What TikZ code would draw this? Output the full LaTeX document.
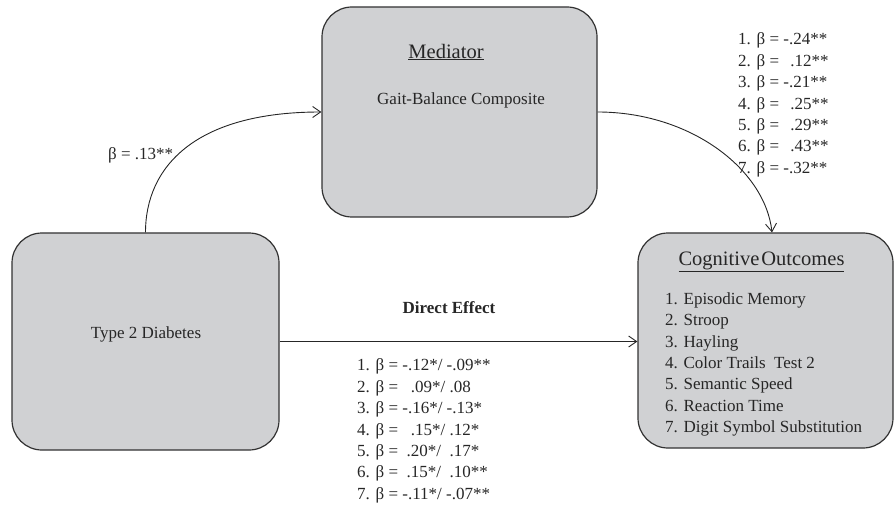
\documentclass[tikz,border=0pt]{standalone}
\usepackage{fontspec}
\setmainfont{Liberation Serif}
\usetikzlibrary{arrows.meta}
\definecolor{boxfill}{RGB}{208,209,211}
\definecolor{boxline}{RGB}{50,50,50}
\tikzset{
  box/.style={draw=boxline, fill=boxfill, line width=1.2pt, rounded corners=30pt, inner sep=0pt},
  txt/.style={inner sep=0pt, text=black!85, font=\fontsize{17}{21.4}\selectfont},
  ttl/.style={inner sep=0pt, text=black!85, font=\fontsize{20.5}{24}\selectfont},
  lst/.style={txt, align=left, anchor=west},
  arr/.style={draw=black!85, line width=0.9pt, -{Straight Barb[length=8pt,width=11pt]}}
}
\begin{document}
\begin{tikzpicture}[x=1pt,y=-1pt]
\useasboundingbox (0,0) rectangle (894,505);
% boxes
\node[box, minimum width=275pt, minimum height=210pt] (med) at (459.5,112) {};
\node[box, minimum width=267pt, minimum height=217pt] (t2) at (145.5,341.5) {};
\node[box, minimum width=255pt, minimum height=215pt] (cog) at (765.5,340.5) {};
% box texts
\node[ttl] (medtitle) at (446,52) {\underline{Mediator}};
\node[txt, anchor=west] (medtext) at (377,100) {Gait-Balance Composite};
\node[txt] (t2text) at (146,334) {Type 2 Diabetes};
\node[ttl] (cogtitle) at (761.5,262) {\underline{Cognitive\hspace{2pt}Outcomes}};
\node[lst] (coglist) at (665,364.5) {1. Episodic Memory\\2. Stroop\\3. Hayling\\4. Color Trails\ \ Test 2\\5. Semantic Speed\\6. Reaction Time\\7. Digit Symbol Substitution};
% connectors
\draw[arr] (t2.north) .. controls ([yshift=65pt]t2.north) and ([xshift=-127pt]med.west) .. (med.west);
\draw[arr] (med.east) .. controls ([xshift=93pt]med.east) and ([xshift=-0.5pt,yshift=63pt]cog.north) .. ([xshift=6.5pt]cog.north);
\draw[arr] (t2.east) -- (t2.east -| cog.west);
% labels
\node[txt, anchor=west] (alabel) at (108,155) {β = .13**};
\node[lst] (blabel) at (738,105) {1. β = -.24**\\2. β = \ \,.12**\\3. β = -.21**\\4. β = \ \,.25**\\5. β = \ \,.29**\\6. β = \ \,.43**\\7. β = -.32**};
\node[txt, font=\fontsize{17}{21.4}\selectfont\bfseries] (dlabel) at (449,308) {Direct Effect};
\node[lst] (clabel) at (357,431) {1. β = -.12*/ -.09**\\2. β = \ \ .09*/ .08\\3. β = -.16*/ -.13*\\4. β = \ \ .15*/ .12*\\5. β = \ .20*/ \ .17*\\6. β = \ .15*/ \ .10**\\7. β = -.11*/ -.07**};
\end{tikzpicture}
\end{document}
